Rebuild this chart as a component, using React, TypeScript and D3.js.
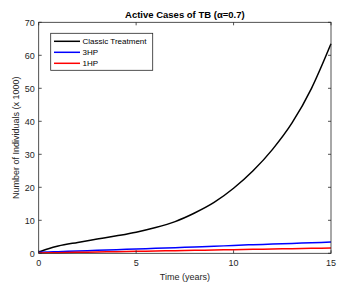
import React from "react";
import * as d3 from "d3";

const years = [0, 0.5, 1, 2, 3, 4, 5, 6, 7, 8, 9, 10, 11, 12, 13, 14, 15];
const classic = [0.4, 1.4, 2.2, 3.3, 4.3, 5.3, 6.4, 7.8, 9.6, 12.2, 15.4, 19.7, 25, 31.5, 39.5, 50, 63.5];
const hp3 = [0.3, 0.4, 0.5, 0.7, 0.9, 1.1, 1.3, 1.5, 1.7, 1.9, 2.1, 2.4, 2.6, 2.8, 3.0, 3.2, 3.4];
const hp1 = [0.1, 0.15, 0.2, 0.3, 0.4, 0.5, 0.6, 0.7, 0.8, 0.9, 1.0, 1.1, 1.2, 1.3, 1.4, 1.5, 1.6];
const xTicks = [0, 5, 10, 15];
const yTicks = [0, 10, 20, 30, 40, 50, 60, 70];
const seriesNames = ["Classic Treatment", "3HP", "1HP"];
const seriesColors = ["#000000", "#0000ff", "#ff0000"];

export default function App() {
  const W = 344, H = 288;
  const L = 38.7, R = 331, T = 22.3, B = 253.3;
  const x = d3.scaleLinear().domain([0, 15]).range([L, R]);
  const y = d3.scaleLinear().domain([0, 70]).range([B, T]);
  const line = d3
    .line<number>()
    .x((_, i) => x(years[i]))
    .y((d) => y(d))
    .curve(d3.curveMonotoneX);
  const series = [classic, hp3, hp1];
  const axisColor = "#262626";
  const font = "Liberation Sans, Arial, sans-serif";
  const tk = 3;
  return (
    <svg width={W} height={H} style={{ position: "absolute", left: 0, top: 0 }} fontFamily={font}>
      <rect x={0} y={0} width={W} height={H} fill="#fff" />
      {series.map((s, i) => (
        <path key={i} d={line(s) || ""} fill="none" stroke={seriesColors[i]} strokeWidth={1.5} />
      ))}
      <rect x={L} y={T} width={R - L} height={B - T} fill="none" stroke={axisColor} strokeWidth={0.8} />
      {xTicks.map((t) => (
        <g key={"x" + t}>
          <line x1={x(t)} x2={x(t)} y1={B} y2={B - tk} stroke={axisColor} strokeWidth={0.8} />
          <line x1={x(t)} x2={x(t)} y1={T} y2={T + tk} stroke={axisColor} strokeWidth={0.8} />
          <text x={x(t)} y={B + 13} fontSize={9} textAnchor="middle" fill={axisColor}>{t}</text>
        </g>
      ))}
      {yTicks.map((t) => (
        <g key={"y" + t}>
          <line x1={L} x2={L + tk} y1={y(t)} y2={y(t)} stroke={axisColor} strokeWidth={0.8} />
          <line x1={R} x2={R - tk} y1={y(t)} y2={y(t)} stroke={axisColor} strokeWidth={0.8} />
          <text x={L - 4} y={y(t) + 3.2} fontSize={9} textAnchor="end" fill={axisColor}>{t}</text>
        </g>
      ))}
      <text x={(L + R) / 2} y={18} fontSize={9.5} fontWeight="bold" textAnchor="middle" fill="#000">
        Active Cases of TB (α=0.7)
      </text>
      <text x={(L + R) / 2} y={280} fontSize={9} textAnchor="middle" fill={axisColor}>Time (years)</text>
      <text
        transform={`translate(19,${(T + B) / 2}) rotate(-90)`}
        fontSize={9}
        textAnchor="middle"
        fill={axisColor}
      >
        Number of Individuals (x 1000)
      </text>
      <rect x={50.7} y={33.3} width={102} height={37} fill="#fff" stroke={axisColor} strokeWidth={0.8} />
      {seriesNames.map((n, i) => (
        <g key={n}>
          <line x1={54} x2={80} y1={41.3 + i * 11} y2={41.3 + i * 11} stroke={seriesColors[i]} strokeWidth={1.5} />
          <text x={82.5} y={44.2 + i * 11} fontSize={8} fill="#000">{n}</text>
        </g>
      ))}
    </svg>
  );
}
